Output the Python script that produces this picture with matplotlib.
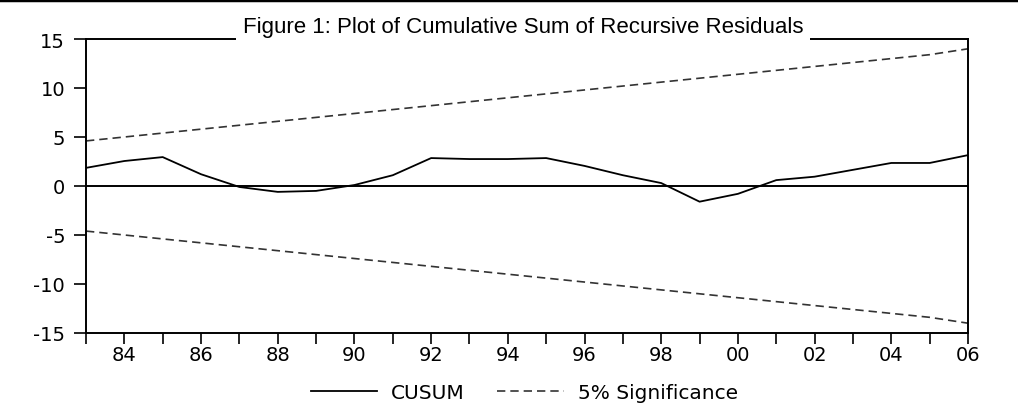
import matplotlib.pyplot as plt
from matplotlib.lines import Line2D

# years of the recursive estimation
years = list(range(1983, 2007))

# CUSUM values
cusum = [1.85, 2.55, 2.95, 1.2, -0.1, -0.6, -0.5, 0.1, 1.1, 2.85, 2.75, 2.75,
         2.85, 2.05, 1.1, 0.3, -1.6, -0.8, 0.6, 0.95, 1.65, 2.35, 2.35, 3.15]

# upper 5% significance bound (lower is its mirror)
upper = [4.6, 5.0, 5.4, 5.8, 6.2, 6.6, 7.0, 7.4, 7.8, 8.2, 8.6, 9.0,
         9.4, 9.8, 10.2, 10.6, 11.0, 11.4, 11.8, 12.2, 12.6, 13.0, 13.4, 14.0]
lower = [-v for v in upper]

y_ticks = [-15, -10, -5, 0, 5, 10, 15]
x_labels = [str(y)[2:] if y % 2 == 0 else '' for y in years]

plt.rcParams['font.family'] = ['DejaVu Sans']

fig = plt.figure(figsize=(10.18, 4.10), dpi=100)
ax = fig.add_axes([86 / 1018, 1 - 334 / 410, (968 - 86) / 1018, (334 - 40) / 410])

dash = (0, (5, 3))
ax.plot(years, cusum, color='black', lw=1.3, label='CUSUM')
ax.plot(years, upper, color='#333333', lw=1.2, linestyle=dash, label='5% Significance')
ax.plot(years, lower, color='#333333', lw=1.2, linestyle=dash)
ax.axhline(0, color='black', lw=1.4)

ax.set_xlim(1983, 2006)
ax.set_ylim(-15, 15)
ax.set_yticks(y_ticks)
ax.set_yticklabels([str(t) for t in y_ticks])
ax.set_xticks(years)
ax.set_xticklabels(x_labels)
ax.tick_params(axis='x', direction='out', length=8, width=1.2, labelsize=14, pad=1)
ax.tick_params(axis='y', direction='out', length=9, width=1.2, labelsize=14, pad=6)
for s in ax.spines.values():
    s.set_linewidth(1.4)

# title sits on the top frame with a white box
fig.text(0.514, 1 - 28 / 410, 'Figure 1: Plot of Cumulative Sum of Recursive Residuals',
         ha='center', va='center', fontsize=16,
         family=['Liberation Sans Narrow', 'Liberation Sans', 'DejaVu Sans'],
         bbox=dict(facecolor='white', edgecolor='none', pad=5))

# thick rule at the top of the page
fig.add_artist(Line2D([0, 1], [0.997, 0.997], transform=fig.transFigure, color='black', lw=2.5))

handles = [Line2D([], [], color='black', lw=1.3),
           Line2D([], [], color='#333333', lw=1.2, linestyle=dash)]
fig.legend(handles, ['CUSUM', '5% Significance'], loc='center',
           bbox_to_anchor=(0.515, 1 - 394 / 410), ncol=2, frameon=False,
           fontsize=14.5, handlelength=3.3, handletextpad=0.7, columnspacing=1.6,
           borderpad=0)

plt.savefig('out.png', dpi=100)
